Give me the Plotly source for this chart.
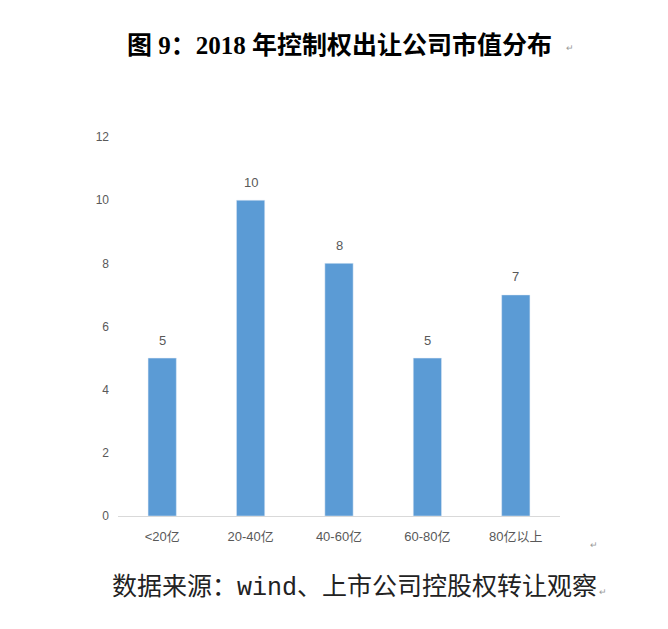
import plotly.graph_objects as go

categories = ["<20亿", "20-40亿", "40-60亿", "60-80亿", "80亿以上"]
counts = [5, 10, 8, 5, 7]
y_ticks = [0, 2, 4, 6, 8, 10, 12]

title_text = "图 9：2018 年控制权出让公司市值分布"
source_text = "数据来源：wind、上市公司控股权转让观察"

bar_color = "#5B9BD5"
grey = "#595959"
tick_font = "Liberation Sans Narrow, Liberation Sans, Noto Sans CJK SC"

fig = go.Figure()
fig.add_trace(
    go.Bar(
        x=categories,
        y=counts,
        marker_color=bar_color,
        hovertemplate="%{x}: %{y}<extra></extra>",
    )
)

# value labels sit a bit higher above the bars than plotly's outside text
for cat, val in zip(categories, counts):
    fig.add_annotation(
        x=cat, y=val, text=str(val),
        yshift=18, showarrow=False,
        font=dict(family=tick_font, size=13, color=grey),
    )

# page body has an 8px margin, so margins are pulled in by 8
fig.update_layout(
    width=668,
    height=629,
    margin=dict(l=110, r=116, t=129, b=121),
    plot_bgcolor="white",
    paper_bgcolor="white",
    bargap=0.68,
    showlegend=False,
    font=dict(family=tick_font, size=12, color=grey),
)
fig.update_xaxes(
    showgrid=False,
    showline=True,
    linecolor="#D9D9D9",
    linewidth=1,
    ticks="",
    ticklabelstandoff=8,
    tickfont=dict(family=tick_font, size=13, color=grey),
)
fig.update_yaxes(
    range=[0, 12],
    tickvals=y_ticks,
    showgrid=False,
    zeroline=False,
    showline=False,
    ticks="",
    ticklabelstandoff=8,
    tickfont=dict(family=tick_font, size=12, color=grey),
)

# title and source line, Word-style paragraph marks
fig.add_annotation(
    text="<b>" + title_text + "</b>",
    xref="paper", yref="paper", x=0.5, y=1,
    xanchor="center", yanchor="middle",
    yshift=137 - 45,
    xshift=0,
    showarrow=False,
    font=dict(family="Liberation Serif, Noto Sans CJK SC", size=25, color="black"),
)
fig.add_annotation(
    text="↵", xref="paper", yref="paper", x=1, y=1,
    xanchor="left", yanchor="middle", xshift=4, yshift=137 - 48,
    showarrow=False, font=dict(size=9, color="#999999"),
)
fig.add_annotation(
    text=source_text,
    xref="paper", yref="paper", x=0, y=0,
    xanchor="left", yanchor="middle",
    xshift=-8, yshift=-(588 - 516),
    showarrow=False,
    font=dict(family="Liberation Mono, Noto Sans CJK SC", size=25, color="#222222"),
)
fig.add_annotation(
    text="↵", xref="paper", yref="paper", x=1, y=0,
    xanchor="left", yanchor="middle", xshift=37, yshift=-(592 - 516),
    showarrow=False, font=dict(size=9, color="#999999"),
)
fig.add_annotation(
    text="↵", xref="paper", yref="paper", x=1, y=0,
    xanchor="left", yanchor="middle", xshift=28, yshift=-(545 - 516),
    showarrow=False, font=dict(size=9, color="#999999"),
)

fig.write_html("out.html")
